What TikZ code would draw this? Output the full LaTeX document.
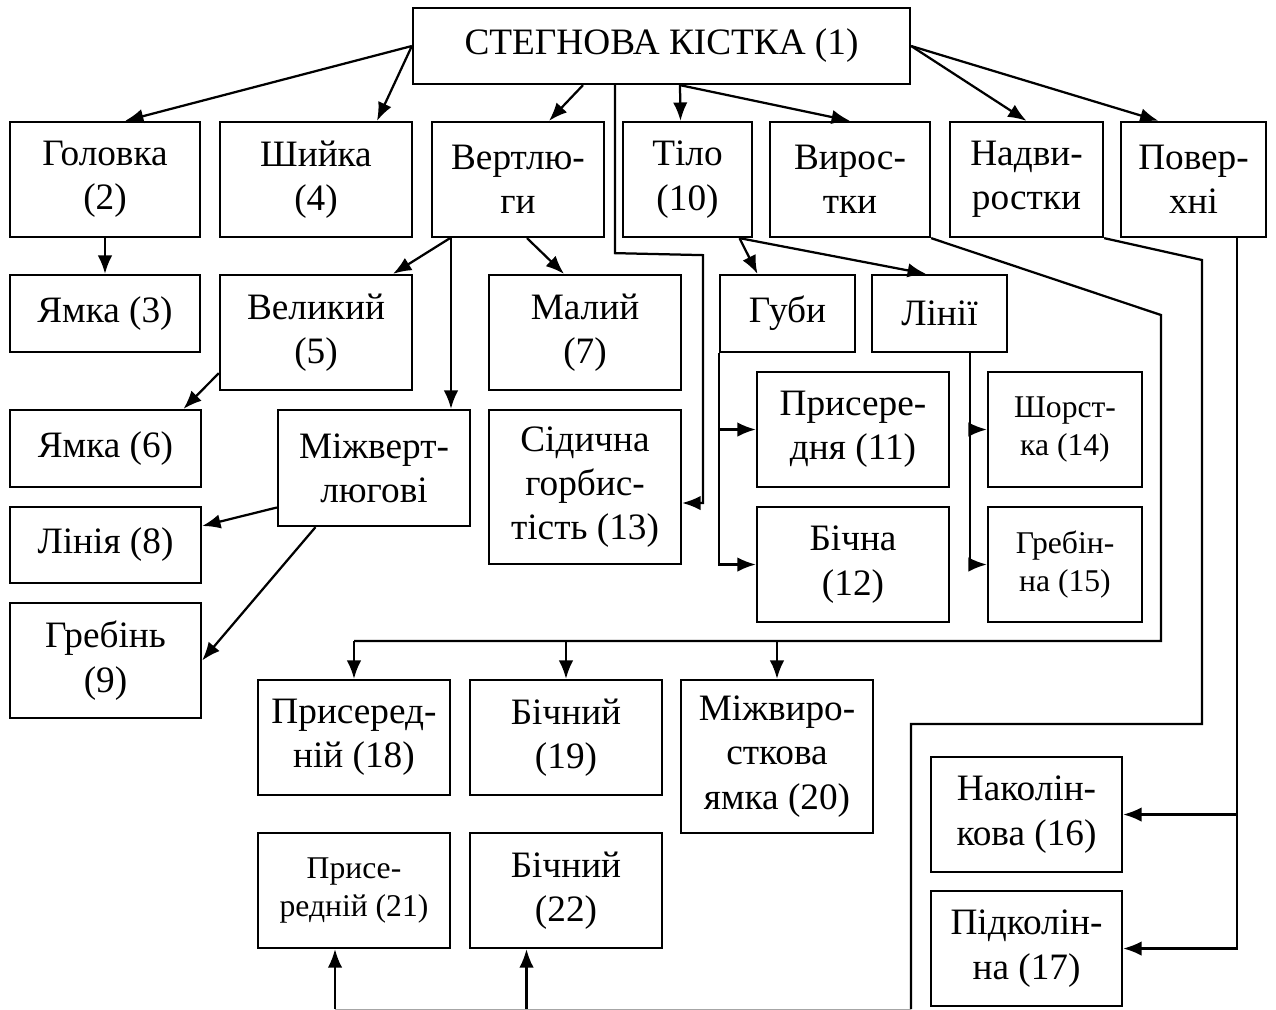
\documentclass[tikz,border=0pt]{standalone}
\usepackage{fontspec}
\setmainfont{Liberation Serif}
\usetikzlibrary{arrows.meta}
% one drawing unit of the grid below
\newcommand\pxu{0.025cm}
\tikzset{
  bx/.style={draw, line width=1.6pt, inner sep=0pt, align=center,
             font=\fontsize{26.5}{31.5}\selectfont},
  small/.style={font=\fontsize{22.5}{27}\selectfont},
  ln/.style={line width=1.6pt},
  arr/.style={ln, -{Latex[length=4.6mm,width=3.6mm]}},
}
% \bx[opts]{name}{x1}{y1}{x2}{y2}{text}: box given by its corners
\newcommand\bx[7][]{%
  \node[bx,#1,minimum width={(#5-#3)*\pxu},minimum height={(#6-#4)*\pxu}]
    (#2) at ({(#3+#5)/2},{(#4+#6)/2}) {#7};}
\begin{document}
\begin{tikzpicture}[x=0.025cm, y=-0.025cm]
\useasboundingbox (0,0) rectangle (1276,1009);

% ---- boxes ----
\bx{title}{413}{8}{910}{84}{СТЕГНОВА КІСТКА (1)}

\bx{head}{10}{122}{200}{237}{Головка\\(2)}
\bx{neck}{220}{122}{412}{237}{Шийка\\(4)}
\bx{troch}{432}{122}{604}{237}{Вертлю-\\ги}
\bx{body}{623}{122}{752}{237}{Тіло\\(10)}
\bx{cond}{770}{122}{930}{237}{Вирос-\\тки}
\bx{epic}{950}{122}{1103}{237}{Надви-\\ростки}
\bx{surf}{1121}{122}{1266}{237}{Повер-\\хні}

\bx{fos3}{10}{275}{200}{352}{Ямка (3)}
\bx{great}{220}{275}{412}{390}{Великий\\(5)}
\bx{lesser}{489}{275}{681}{390}{Малий\\(7)}
\bx{lips}{720}{275}{855}{352}{Губи}
\bx{lines}{872}{275}{1007}{352}{Лінії}

\bx{fos6}{10}{410}{201}{487}{Ямка (6)}
\bx{inter}{278}{410}{470}{526}{Міжверт-\\люгові}
\bx{sciatic}{489}{410}{681}{564}{Сідична\\горбис-\\тість (13)}
\bx{med11}{757}{372}{949}{487}{Присере-\\дня (11)}
\bx[small]{rough}{988}{372}{1142}{487}{Шорст-\\ка (14)}

\bx{line8}{10}{507}{201}{583}{Лінія (8)}
\bx{lat12}{757}{507}{949}{622}{Бічна\\(12)}
\bx[small]{pect}{988}{507}{1142}{622}{Гребін-\\на (15)}
\bx{crest9}{10}{603}{201}{718}{Гребінь\\(9)}

\bx{m18}{258}{680}{450}{795}{Присеред-\\ній (18)}
\bx{l19}{470}{680}{662}{795}{Бічний\\(19)}
\bx{ic20}{681}{680}{873}{833}{Міжвиро-\\сткова\\ямка (20)}
\bx[small]{m21}{258}{833}{450}{948}{Присе-\\редній (21)}
\bx{l22}{470}{833}{662}{948}{Бічний\\(22)}
\bx{pat16}{931}{757}{1122}{872}{Наколін-\\кова (16)}
\bx{pop17}{931}{891}{1122}{1006}{Підколін-\\на (17)}

% ---- from the femur ----
\draw[arr] (title.west) -- ([xshift=20*\pxu]head.north);
\draw[arr] (title.west) -- ([xshift=61*\pxu]neck.north);
\draw[arr] ([xshift=-78.5*\pxu]title.south) -- ([xshift=31*\pxu]troch.north);
\draw[arr] ([xshift=18.5*\pxu]title.south) -- ([xshift=-7*\pxu]body.north);
\draw[arr] ([xshift=18.5*\pxu]title.south) -- (cond.north);
\draw[arr] (title.east) -- (epic.north);
\draw[arr] (title.east) -- ([xshift=-35*\pxu]surf.north);
\draw[arr] ([xshift=-46.5*\pxu]title.south) -- ++(0,168) -- ++(88,2)
  |- ([yshift=-16*\pxu]sciatic.east);

% ---- head, trochanters ----
\coordinate (tv) at ([xshift=-67*\pxu]troch.south);
\draw[arr] (head.south) -- (fos3.north);
\draw[arr] ([xshift=-68*\pxu]troch.south) -- ([xshift=77*\pxu]great.north);
\draw[arr] (tv) -- (tv |- inter.north);
\draw[arr] ([xshift=9*\pxu]troch.south) -- ([xshift=-21*\pxu]lesser.north);
\draw[arr] ([yshift=18*\pxu]great.south west) -- ([xshift=78*\pxu]fos6.north);
\draw[arr] ([yshift=-39.5*\pxu]inter.west) -- ([yshift=19*\pxu]line8.east);
\draw[arr] ([xshift=-58.5*\pxu]inter.south) -- (crest9.east);

% ---- body: lips and lines ----
\draw[arr] ([xshift=52*\pxu]body.south) -- ([xshift=-30*\pxu]lips.north);
\draw[arr] ([xshift=52*\pxu]body.south) -- ([xshift=-13.5*\pxu]lines.north);
\draw[arr] (lips.south west) |- (med11.west);
\draw[arr] (lips.south west) |- (lat12.west);
\draw[arr] ([xshift=30.5*\pxu]lines.south) |- (rough.west);
\draw[arr] ([xshift=30.5*\pxu]lines.south) |- (pect.west);

% ---- condyles ----
\coordinate (k1) at (1161,315);
\coordinate (k2) at (1161,641);
\draw[ln] (cond.south east) -- (k1) -- (k2) -- (k2 -| m18.north);
\draw[arr] (k2 -| m18.north) -- (m18.north);
\draw[arr] (k2 -| l19.north) -- (l19.north);
\draw[arr] (k2 -| ic20.north) -- (ic20.north);

% ---- epicondyles ----
\coordinate (e1) at (1202,260);
\coordinate (e2) at (1202,724);
\coordinate (e3) at (911,724);
\coordinate (e4) at (911,1009);
\coordinate (a21) at ([xshift=-19*\pxu]m21.south);
\coordinate (a22) at ([xshift=-39.5*\pxu]l22.south);
\draw[ln] (epic.south east) -- (e1) -- (e2) -- (e3) -- (e4);
\draw[line width=0.5pt, black!35] (e4) -- (e4 -| a21);
\draw[arr] (e4 -| a21) -- (a21);
\draw[arr] (e4 -| a22) -- (a22);

% ---- surfaces ----
\draw[arr] ([xshift=43.5*\pxu]surf.south) |- (pat16.east);
\draw[arr] ([xshift=43.5*\pxu]surf.south) |- (pop17.east);
\end{tikzpicture}
\end{document}
